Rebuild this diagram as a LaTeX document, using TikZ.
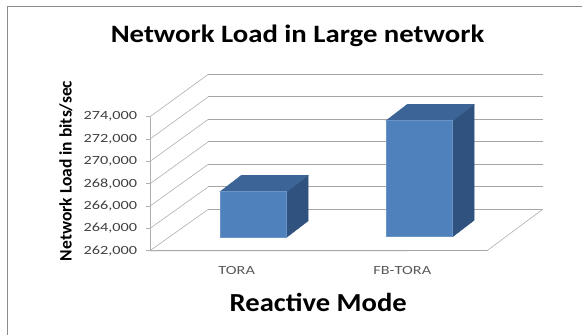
\documentclass[tikz,border=0pt]{standalone}
\usepackage{fontspec}
\setmainfont{Carlito}
\newfontfamily\headfont[FakeStretch=1.15]{Carlito}
\newfontfamily\modefont[FakeStretch=1.1]{Carlito}
\newfontfamily\tickfont[FakeStretch=1.3]{Carlito}

\definecolor{barfront}{HTML}{4F81BD}
\definecolor{bartop}{HTML}{3C6496}
\definecolor{barside}{HTML}{30527E}
\definecolor{barline}{HTML}{6A93C6}
\definecolor{gridgray}{HTML}{A6A6A6}
\definecolor{framegray}{HTML}{8C8C8C}
\definecolor{ticktext}{HTML}{404040}
\definecolor{cattext}{HTML}{5A5A5A}

\tikzset{
  gridline/.style={draw=gridgray, line width=1.3pt},
  wallline/.style={draw=gridgray!90, line width=0.6pt},
  tickmark/.style={draw=gridgray!90, line width=0.8pt},
  ticklabel/.style={font=\tickfont\fontsize{12.5}{14}\selectfont, text=ticktext, anchor=east, inner sep=0pt},
  catlabel/.style={font=\tickfont\fontsize{12.5}{14}\selectfont, text=cattext, inner sep=0pt},
  cubefront/.style={fill=barfront, draw=barline, line width=0.5pt},
  cubetop/.style={fill=bartop, draw=bartop, line width=0.4pt},
  cubeside/.style={fill=barside, draw=barside, line width=0.4pt},
}

% a 3-D column: front face from (#1,#2) to (#3,#4)
\newcommand{\columnbar}[4]{%
  \fill[cubeside] (#3,#2) -- ++(21.5,-16.5) -- ++(0,#4-#2) -- (#3,#4) -- cycle;
  \fill[cubetop] (#1,#2) -- ++(21.5,-16.5) -- ++(#3-#1,0) -- (#3,#2) -- cycle;
  \filldraw[cubefront] (#1,#2) rectangle (#3,#4);
}

\begin{document}
\begin{tikzpicture}[x=1pt,y=-1pt]
\useasboundingbox (0,0) rectangle (582,335);

% chart frame (only top and left edges fall inside the page)
\coordinate (frameTL) at (7.3,6.3);
\draw[framegray, line width=1.4pt] (582,6.3) -- (frameTL) -- (7.3,335);

% title
\node[font=\headfont\bfseries\fontsize{25}{30}\selectfont, inner sep=0pt] (title) at (297.5,36) {Network Load in Large network};

% value axis: front ticks and back-wall grid
\foreach \k/\lab in {0/262{,}000,1/264{,}000,2/266{,}000,3/268{,}000,4/270{,}000,5/272{,}000,6/274{,}000} {
  \coordinate (front\k) at (150,{250.7-22.33*\k});
  \coordinate (back\k) at (208.3,{209.3-22.5*\k});
  \coordinate (right\k) at (542.7,{209.3-22.5*\k});
  \draw[wallline] (front\k) -- (back\k);
  \draw[tickmark] (front\k) -- ++(-4,0);
  \draw[gridline] (back\k) -- (right\k);
  \node[ticklabel] (tick\k) at ([xshift=-12.7pt]front\k) {\lab};
}
\draw[tickmark] (front0) -- (front6);

% floor
\coordinate (floorFR) at (487.3,250.5);
\draw[wallline] (front0) -- (floorFR) -- (right0);
\draw[gridline, line width=0.9pt] (front0) -- (floorFR);

% columns
\columnbar{220}{191.7}{286.7}{237.3}
\columnbar{386}{120.7}{452.7}{236.7}

% category labels
\node[catlabel] (catA) at (236.7,270.7) {TORA};
\node[catlabel] (catB) at (402.3,270.7) {FB-TORA};

% axis titles
\node[font=\modefont\bfseries\fontsize{26}{30}\selectfont, inner sep=0pt] (xtitle) at (318.3,302.7) {Reactive Mode};
\node[font=\bfseries\fontsize{17.5}{20}\selectfont, rotate=90, inner sep=0pt] (ytitle) at (66,171) {Network Load in bits/sec};
\end{tikzpicture}
\end{document}
